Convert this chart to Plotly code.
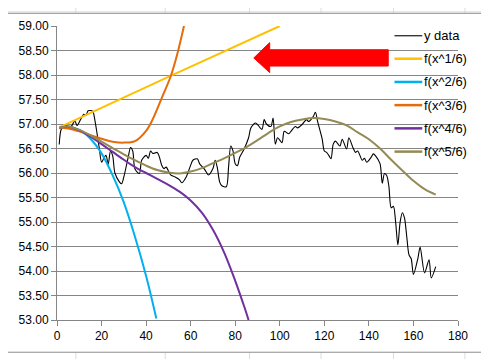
import plotly.graph_objects as go

# ---- data ----
data_x = [1, 2, 4, 6, 8, 9, 11, 12, 13, 14, 16, 17, 18, 19, 20, 21, 22, 23, 24, 25, 26, 28, 29, 30,
          32, 33, 34, 35, 37, 38, 40, 41, 42, 43, 45, 46, 47, 48, 49, 51, 53, 55, 56, 58, 60, 61, 63,
          64, 66, 67, 68, 70, 71, 72, 73, 74, 76, 77, 78, 79, 80, 81, 82, 84, 86, 87, 89, 90, 92, 93,
          94, 96, 97, 98, 99, 101, 102, 104, 105, 107, 108, 110, 112, 113, 115, 116, 117, 119, 120,
          121, 122, 123, 124, 125, 127, 128, 130, 131, 133, 134, 135, 137, 138, 139, 141, 142, 143,
          145, 146, 147, 148, 149, 150, 151, 152, 153, 154, 155, 156, 157, 158, 159, 160, 162, 163,
          165, 167, 168, 170]
data_y = [56.58, 56.90, 56.97, 56.93, 57.06, 56.97, 57.13, 57.20, 57.18, 57.27, 57.26, 57.08, 56.80,
          56.50, 56.22, 56.30, 56.36, 56.18, 56.45, 56.35, 56.00, 55.82, 55.78, 55.92, 56.33, 56.52,
          56.45, 56.08, 55.99, 56.26, 56.36, 56.30, 56.45, 56.40, 56.42, 56.32, 56.16, 56.09, 56.12,
          55.96, 55.92, 55.86, 55.80, 55.92, 56.16, 56.26, 56.29, 56.19, 56.09, 56.02, 55.96, 56.09,
          56.26, 56.10, 55.82, 55.74, 55.72, 56.12, 56.55, 56.45, 56.19, 56.15, 56.32, 56.49, 56.72,
          56.92, 57.02, 56.99, 56.89, 57.09, 57.00, 56.95, 57.12, 56.59, 56.72, 56.62, 56.85, 56.80,
          56.85, 56.95, 56.92, 56.99, 57.09, 57.05, 57.15, 57.24, 57.05, 56.70, 56.45, 56.42, 56.36,
          56.29, 56.59, 56.65, 56.55, 56.69, 56.49, 56.72, 56.50, 56.42, 56.45, 56.26, 56.30, 56.22,
          56.32, 56.39, 56.35, 56.19, 55.79, 55.99, 55.95, 55.72, 55.29, 55.32, 55.00, 54.53, 54.99,
          55.19, 55.08, 54.70, 54.33, 54.25, 53.93, 54.26, 54.49, 53.96, 54.23, 53.86, 54.09]

f1_x = [1, 50, 100]
f1_y = [56.93, 57.96, 59.00]

f2_x = [1, 5, 10, 15, 20, 25, 30, 35, 40, 44.6]
f2_y = [56.91, 56.94, 56.88, 56.70, 56.40, 55.95, 55.40, 54.70, 53.90, 53.03]

f3_x = [1, 5, 10, 15, 20, 25, 30, 35, 40, 43, 47, 51, 54, 57]
f3_y = [56.93, 56.91, 56.85, 56.77, 56.70, 56.64, 56.62, 56.65, 56.86, 57.10, 57.53, 57.97, 58.43, 59.00]

f4_x = [1, 5, 10, 15, 20, 25, 30, 35, 40, 45, 50, 55, 60, 65, 70, 75, 80, 84, 86]
f4_y = [56.92, 56.95, 56.87, 56.74, 56.59, 56.43, 56.27, 56.12, 56.00, 55.88, 55.76, 55.62, 55.44,
        55.19, 54.84, 54.38, 53.80, 53.28, 53.00]

f5_x = [1, 5, 10, 15, 20, 25, 30, 35, 40, 45, 50, 55, 60, 65, 70, 75, 80, 85, 90, 95, 100, 105,
        110, 115, 120, 125, 130, 135, 140, 145, 150, 155, 160, 165, 170]
f5_y = [56.92, 56.95, 56.88, 56.77, 56.64, 56.51, 56.38, 56.26, 56.15, 56.06, 56.01, 55.99, 56.03,
        56.10, 56.20, 56.30, 56.41, 56.53, 56.67, 56.82, 56.95, 57.04, 57.09, 57.12, 57.10, 57.05,
        56.97, 56.83, 56.69, 56.50, 56.27, 56.05, 55.84, 55.67, 55.56]

names = ["y data", "f(x^1/6)", "f(x^2/6)", "f(x^3/6)", "f(x^4/6)", "f(x^5/6)"]
colors = ["#000000", "#FFC000", "#00B0F0", "#E46C0A", "#7030A0", "#948A54"]
y_ticks = [53.0, 53.5, 54.0, 54.5, 55.0, 55.5, 56.0, 56.5, 57.0, 57.5, 58.0, 58.5, 59.0]
x_ticks = [0, 20, 40, 60, 80, 100, 120, 140, 160, 180]

# ---- layout geometry (screen pixels; the page body adds an 8px offset) ----
OFF = 8
SW, SH = 489, 360
L, R, T, B = 54, 458, 19, 320
FW, FH = SW - OFF, SH - OFF


def pxx(v):
    return (v - L) / (R - L)


def pxy(v):
    return (B - v) / (B - T)


series = [(data_x, data_y), (f1_x, f1_y), (f2_x, f2_y), (f3_x, f3_y), (f4_x, f4_y), (f5_x, f5_y)]
widths = [1.1, 2, 2, 2, 2, 2]

fig = go.Figure()
for i, ((xs, ys), nm, col) in enumerate(zip(series, names, colors)):
    fig.add_trace(go.Scatter(
        x=xs, y=ys, name=nm, mode="lines", showlegend=False,
        line=dict(color=col, width=widths[i], shape="spline", smoothing=0.8 if i == 0 else 1.0),
    ))

shapes = []
annotations = []
# spreadsheet cell lines behind the chart object
for cx in [73, 163, 248, 320, 393, 465]:
    shapes.append(dict(type="line", xref="paper", yref="paper", x0=pxx(cx), x1=pxx(cx),
                       y0=pxy(0), y1=pxy(SH), line=dict(color="#DADCDD", width=1), layer="below"))
for k in range(19):
    ry = 4.5 + 20.2 * k
    shapes.append(dict(type="line", xref="paper", yref="paper", x0=pxx(0), x1=pxx(SW),
                       y0=pxy(ry), y1=pxy(ry), line=dict(color="#DADCDD", width=1), layer="below"))
# chart area
shapes.append(dict(type="rect", xref="paper", yref="paper", x0=pxx(3), x1=pxx(483),
                   y0=pxy(353), y1=pxy(6), fillcolor="white", line=dict(color="#8C8C8C", width=1),
                   layer="below"))
# red arrow
pts = [(252.3, 51.7), (268.3, 36), (268.3, 43.3), (387.7, 43.3), (387.7, 60), (268.3, 60), (268.3, 66.7)]
path = "M " + " L ".join(f"{pxx(a):.4f},{pxy(b):.4f}" for a, b in pts) + " Z"
shapes.append(dict(type="path", xref="paper", yref="paper", path=path, fillcolor="#FF0000",
                   line=dict(color="#FF0000", width=1), layer="above"))

# legend (Excel style: short line sample + label)
rows = [29, 52.5, 76.3, 100, 123.8, 147.6]
for i, (nm, col, ry) in enumerate(zip(names, colors, rows)):
    shapes.append(dict(type="line", xref="paper", yref="paper", x0=pxx(394), x1=pxx(422),
                       y0=pxy(ry), y1=pxy(ry), line=dict(color=col, width=1.1 if i == 0 else 2.5),
                       layer="above"))
    annotations.append(dict(xref="paper", yref="paper", x=pxx(422), y=pxy(ry), xanchor="left",
                            yanchor="middle", text=nm, showarrow=False,
                            font=dict(size=13, color="#000000")))

fig.update_layout(
    width=FW, height=FH,
    margin=dict(l=L - OFF, r=SW - R, t=T - OFF, b=SH - B, pad=0),
    paper_bgcolor="white", plot_bgcolor="rgba(0,0,0,0)",
    font=dict(family="Liberation Sans, Arial, sans-serif", size=12, color="#000000"),
    shapes=shapes,
    annotations=annotations,
    showlegend=False,
    xaxis=dict(range=[0, 180], tickvals=x_ticks, showgrid=False, zeroline=False, showline=True,
               linecolor="#868686", linewidth=1, ticks="outside", ticklen=5, tickcolor="#868686",
               fixedrange=True),
    yaxis=dict(range=[53, 59], tickvals=y_ticks, tickformat=".2f", showgrid=True, gridcolor="#868686",
               gridwidth=1, zeroline=False, showline=True, linecolor="#868686", linewidth=1,
               ticks="outside", ticklen=5, tickcolor="#868686", fixedrange=True),
)

fig.write_html("out.html")
